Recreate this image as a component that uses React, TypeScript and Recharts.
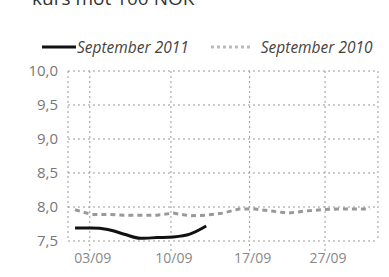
import { LineChart, Line, XAxis, YAxis, CartesianGrid } from 'recharts';

// trading day index within the month
const days = [0, 1, 2, 3, 4, 5, 6, 7, 8, 9, 10, 11, 12, 13, 14, 15, 16, 17, 18];
const sep2010 = [7.96, 7.89, 7.89, 7.88, 7.88, 7.88, 7.91, 7.87, 7.88, 7.91, 7.97, 7.97, 7.94, 7.91, 7.94, 7.96, 7.97, 7.97, 7.97];
const sep2011 = [7.69, 7.69, 7.67, 7.6, 7.54, 7.55, 7.56, 7.6, 7.72];

const xTicks = [0.9, 5.85, 10.65, 15.25];
const xLabels = ['03/09', '10/09', '17/09', '27/09'];
const yTicks = [7.5, 8, 8.5, 9, 9.5, 10];

const data = days.map((d, i) => ({
  day: d,
  sep2010: sep2010[i],
  sep2011: i < sep2011.length ? sep2011[i] : null,
}));

const font = '"Open Sans", sans-serif';

export default function App() {
  return (
    <div style={{ position: 'absolute', left: 0, top: 0, width: 389, height: 277, background: '#fff', overflow: 'hidden' }}>
      <div style={{ position: 'absolute', left: 32, top: -15, fontFamily: font, fontSize: 19, color: '#333', whiteSpace: 'nowrap' }}>
        kurs mot 100 NOK
      </div>
      {/* legend */}
      <div
        style={{
          position: 'absolute', left: 42, top: 36, display: 'flex', alignItems: 'center',
          fontFamily: font, fontStyle: 'italic', fontSize: 15.5, color: '#444', whiteSpace: 'nowrap',
        }}
      >
        <svg width={35} height={10}>
          <line x1={0} y1={5} x2={34} y2={5} stroke="#111" strokeWidth={3} />
        </svg>
        <span style={{ marginRight: 22 }}>September 2011</span>
        <svg width={50} height={10}>
          <line x1={0} y1={5} x2={40} y2={5} stroke="#bbb" strokeWidth={3} strokeDasharray="3 3" />
        </svg>
        <span>September 2010</span>
      </div>
      <LineChart width={389} height={277} data={data} margin={{ top: 71, right: 11, bottom: 6, left: 0 }}>
        <CartesianGrid stroke="#999" strokeDasharray="2 3" />
        <XAxis
          dataKey="day"
          type="number"
          domain={[-0.43, 18.48]}
          ticks={xTicks}
          tickFormatter={(v: number) => xLabels[xTicks.indexOf(v)]}
          axisLine={false}
          tickLine={{ stroke: '#999', strokeDasharray: '2 3' }}
          tickSize={10}
          height={30}
          tick={{ fill: '#888', fontSize: 14, fontFamily: font, dx: 3 }}
        />
        <YAxis
          domain={[7.5, 10]}
          ticks={yTicks}
          tickFormatter={(v: number) => v.toFixed(1).replace('.', ',')}
          axisLine={false}
          tickLine={false}
          width={68}
          tick={{ fill: '#777', fontSize: 15, fontFamily: font, dx: -2 }}
        />
        <Line dataKey="sep2010" stroke="#999" strokeWidth={3} strokeDasharray="5 4" dot={false} isAnimationActive={false} />
        <Line dataKey="sep2011" type="monotone" stroke="#111" strokeWidth={3} dot={false} connectNulls={false} isAnimationActive={false} />
      </LineChart>
    </div>
  );
}
